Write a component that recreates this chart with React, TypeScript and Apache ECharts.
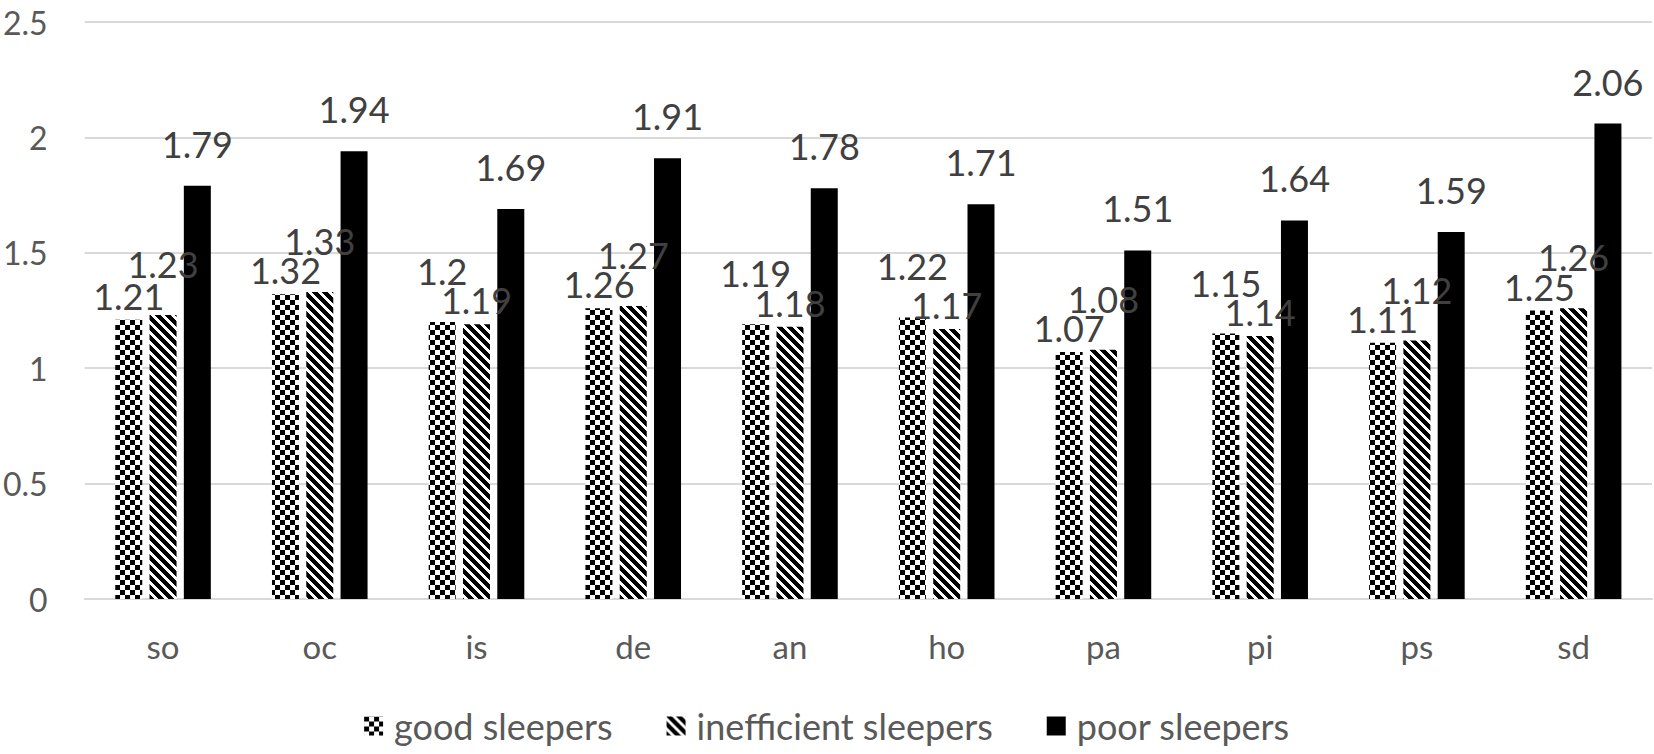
import React, { useEffect, useRef } from "react";
import * as echarts from "echarts";

const categories = ["so", "oc", "is", "de", "an", "ho", "pa", "pi", "ps", "sd"];
const goodSleepers = [1.21, 1.32, 1.2, 1.26, 1.19, 1.22, 1.07, 1.15, 1.11, 1.25];
const inefficientSleepers = [1.23, 1.33, 1.19, 1.27, 1.18, 1.17, 1.08, 1.14, 1.12, 1.26];
const poorSleepers = [1.79, 1.94, 1.69, 1.91, 1.78, 1.71, 1.51, 1.64, 1.59, 2.06];
const seriesNames = ["good sleepers", "inefficient sleepers", "poor sleepers"];

// which of the two overlapping labels in a category is lifted above the other
const goodLabelRaised = [false, false, true, false, true, true, false, true, false, false];
const inefficientLabelRaised = [true, true, false, true, false, false, true, false, true, true];

const FONT = "Lato";

function makeTile(kind: "checker" | "diagonal") {
  const size = 10;
  const c = document.createElement("canvas");
  c.width = size;
  c.height = size;
  const ctx = c.getContext("2d")!;
  ctx.fillStyle = "#ffffff";
  ctx.fillRect(0, 0, size, size);
  ctx.fillStyle = "#000000";
  for (let y = 0; y < size; y++) {
    for (let x = 0; x < size; x++) {
      let on = false;
      if (kind === "checker") {
        on = (Math.floor(x / 5) + Math.floor(y / 5)) % 2 === 0;
      } else {
        on = (((x - y) % 10) + 10) % 10 < 6;
      }
      if (on) ctx.fillRect(x, y, 1, 1);
    }
  }
  return { image: c, repeat: "repeat", imageWidth: size, imageHeight: size };
}

export default function App() {
  const ref = useRef<HTMLDivElement>(null);
  useEffect(() => {
    document.body.style.margin = "0";
    const chart = echarts.init(ref.current!, null, { renderer: "svg" });
    const checker = makeTile("checker");
    const diagonal = makeTile("diagonal");

    const labelBase = {
      show: true,
      position: "top",
      color: "#404040",
      fontSize: 36,
      fontFamily: FONT,
    };
    const mk = (vals: number[], raised: boolean[] | null, normal: number, lifted: number) =>
      vals.map((v, i) => ({
        value: v,
        label: { distance: raised && raised[i] ? lifted : normal },
      }));

    chart.setOption({
      animation: false,
      textStyle: { fontFamily: FONT },
      grid: { left: 82, right: 2, top: 22, bottom: 155, containLabel: false },
      legend: {
        data: seriesNames,
        left: "center",
        top: 708,
        padding: 0,
        icon: "rect",
        itemWidth: 19,
        itemHeight: 19,
        itemGap: 54,
        textStyle: { color: "#595959", fontSize: 36, fontFamily: FONT, padding: [0, 0, 0, 6] },
      },
      xAxis: {
        type: "category",
        data: categories,
        axisLine: { lineStyle: { color: "#d9d9d9", width: 2 } },
        axisTick: { show: false },
        axisLabel: { color: "#595959", fontSize: 33, fontFamily: FONT, margin: 30 },
      },
      yAxis: {
        type: "value",
        min: 0,
        max: 2.5,
        interval: 0.5,
        axisLine: { show: false },
        axisTick: { show: false },
        splitLine: { lineStyle: { color: "#d9d9d9", width: 2 } },
        axisLabel: { color: "#595959", fontSize: 32, fontFamily: FONT, margin: 37 },
      },
      series: [
        {
          name: seriesNames[0],
          type: "bar",
          data: mk(goodSleepers, goodLabelRaised, 6, 33),
          barWidth: 27,
          barGap: "27%",
          itemStyle: { color: checker },
          label: labelBase,
        },
        {
          name: seriesNames[1],
          type: "bar",
          data: mk(inefficientSleepers, inefficientLabelRaised, 6, 33),
          barWidth: 27,
          barGap: "27%",
          itemStyle: { color: diagonal },
          label: labelBase,
        },
        {
          name: seriesNames[2],
          type: "bar",
          data: mk(poorSleepers, null, 24, 24),
          barWidth: 27,
          barGap: "27%",
          itemStyle: { color: "#000000" },
          label: labelBase,
        },
      ],
    });
    return () => chart.dispose();
  }, []);
  return <div ref={ref} style={{ width: 1654, height: 754 }} />;
}
